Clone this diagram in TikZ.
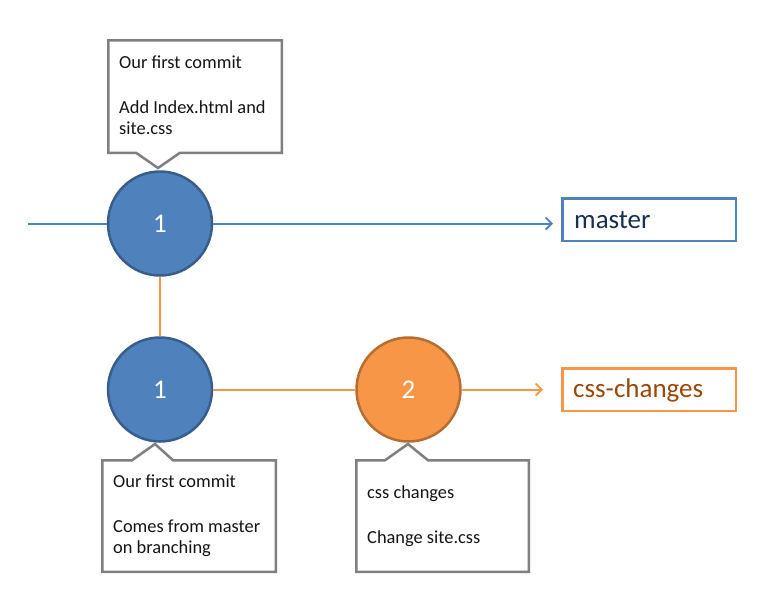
\documentclass[tikz,border=0pt]{standalone}
\usepackage{fontspec}
\setmainfont{Carlito}
\usetikzlibrary{arrows.meta}
\definecolor{accblue}{HTML}{4F81BD}
\definecolor{accblueD}{HTML}{385D8A}
\definecolor{accorange}{HTML}{F79646}
\definecolor{accorangeD}{HTML}{B66D31}
\definecolor{navytext}{HTML}{17304F}
\definecolor{browntext}{HTML}{984807}
\definecolor{calloutgray}{HTML}{7F7F7F}
\definecolor{calltext}{HTML}{141414}
\tikzset{
  commitblue/.style={circle, minimum size=104pt, inner sep=0pt, fill=accblue, draw=accblueD, line width=2.5pt, text=white, font=\fontsize{27}{32}\selectfont},
  commitorange/.style={circle, minimum size=104pt, inner sep=0pt, fill=accorange, draw=accorangeD, line width=2.5pt, text=white, font=\fontsize{27}{32}\selectfont},
  branchbox/.style={rectangle, minimum width=173.5pt, minimum height=42.5pt, inner sep=0pt, fill=white, line width=2.5pt},
  branchtext/.style={anchor=base west, inner sep=0pt, font=\fontsize{27}{32}\selectfont},
  blueline/.style={draw=accblue, line width=2pt},
  orangeline/.style={draw=accorange, line width=2pt},
  barb/.style={-{Straight Barb[length=6pt,width=12pt,line width=1.8pt]}},
  callout/.style={draw=calloutgray, line width=2.5pt, fill=white},
  calltxt/.style={anchor=base west, inner sep=0pt, text=calltext, font=\fontsize{18.4}{22}\selectfont},
}
\begin{document}
\begin{tikzpicture}[x=1pt,y=-1pt]
\useasboundingbox (0,0) rectangle (761,603);
% commits
\node[commitblue] (c1) at (160,223.5) {1};
\node[commitblue] (c2) at (160,389.5) {1};
\node[commitorange] (c3) at (408.5,389.5) {2};
% branch labels
\node[branchbox, draw=accblue] (master) at (649,219.5) {};
\node[branchtext, text=navytext] (mastertext) at (574,228) {master};
\node[branchbox, draw=accorange] (css) at (649,389.5) {};
\node[branchtext, text=browntext] (csstext) at (573,397) {css-changes};
% connectors
\coordinate (start) at (28,223.5);
\draw[blueline] (start) -- (c1.west);
\draw[blueline, barb, shorten >=8pt] (c1.east) -- (c1.east -| master.west);
\draw[orangeline] (c1.south) -- (c2.north);
\draw[orangeline] (c2.east) -- (c3.west);
\draw[orangeline, barb, shorten >=18pt] (c3.east) -- (c3.east -| css.west);
% callouts
\draw[callout] (108.25,40.25) -- (281.75,40.25) -- (281.75,152.75) -- (180,152.75) -- (158,168) -- (136,152.75) -- (108.25,152.75) -- cycle;
\node[calltxt] (t1a) at (119,68) {Our first commit};
\node[calltxt] (t1b) at (119,113) {Add Index.html and};
\node[calltxt] (t1c) at (119,134) {site.css};
\draw[callout] (102.25,460.25) -- (132,460.25) -- (155,444) -- (173,460.25) -- (275.75,460.25) -- (275.75,571.75) -- (102.25,571.75) -- cycle;
\node[calltxt] (t2a) at (113,487) {Our first commit};
\node[calltxt] (t2b) at (113,532) {Comes from master};
\node[calltxt] (t2c) at (113,553) {on branching};
\draw[callout] (356.25,460.25) -- (385,460.25) -- (408,444) -- (428,460.25) -- (528.75,460.25) -- (528.75,571.75) -- (356.25,571.75) -- cycle;
\node[calltxt] (t3a) at (367,498) {css changes};
\node[calltxt] (t3b) at (367,543) {Change site.css};
\end{tikzpicture}
\end{document}
